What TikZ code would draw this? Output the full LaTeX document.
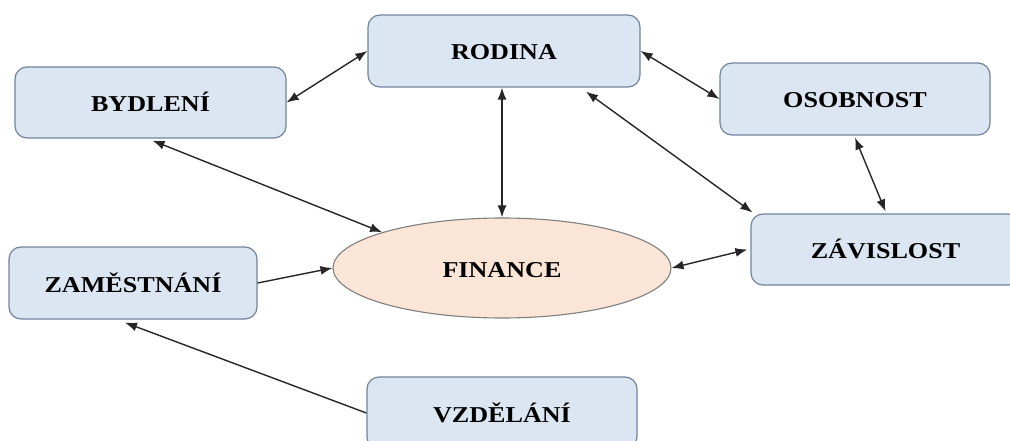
\documentclass[tikz,border=0pt]{standalone}
\usepackage{fontspec}
\setmainfont{Liberation Serif}[FakeStretch=1.15]
\usetikzlibrary{shapes.geometric,arrows.meta,calc}
\definecolor{boxfill}{HTML}{DCE6F2}
\definecolor{boxline}{HTML}{72839C}
\definecolor{elfill}{HTML}{FBE5D6}
\definecolor{elline}{HTML}{7F7F7F}
\tikzset{
  box/.style={draw=boxline, line width=1.2pt, fill=boxfill, rounded corners=12pt,
    inner sep=0pt, text height=18pt, text depth=0pt,
    font=\fontsize{22.7}{26}\selectfont\bfseries},
  fin/.style={ellipse, draw=elline, line width=1.1pt, fill=elfill, inner sep=0pt,
    text height=18pt, text depth=0pt,
    minimum width=338pt, minimum height=100pt,
    font=\fontsize{22.7}{26}\selectfont\bfseries},
  conn/.style={line width=1.4pt, draw=black!85, {Latex[length=12pt,width=9pt]}-{Latex[length=12pt,width=9pt]}},
  oneway/.style={line width=1.4pt, draw=black!85, -{Latex[length=12pt,width=9pt]}}
}
\begin{document}
\begin{tikzpicture}[x=1pt,y=-1pt]
\useasboundingbox (0,0) rectangle (1010,441);
\node[box, minimum width=271pt, minimum height=71pt] (byd) at (150.5,102.5) {BYDLENÍ};
\node[box, minimum width=272pt, minimum height=72pt] (rod) at (504,51) {RODINA};
\node[box, minimum width=270pt, minimum height=72pt] (oso) at (855,99) {OSOBNOST};
\node[box, minimum width=269pt, minimum height=71pt] (zav) at (885.5,249.5) {ZÁVISLOST};
\node[box, minimum width=248pt, minimum height=72pt] (zam) at (133,283) {ZAMĚSTNÁNÍ};
\node[box, minimum width=270pt, minimum height=72pt] (vzd) at (502,413) {VZDĚLÁNÍ};
\node[fin] (fin) at (502,268) {FINANCE};

\draw[conn] (byd.east) -- (rod.west);
\draw[conn] ($(byd.south)+(2,2)$) -- (fin.north west);
\draw[conn] ($(rod.south)+(-2,0)$) -- (fin.north);
\draw[conn] (rod.east) -- (oso.west);
\draw[conn] ($(rod.south)!0.6!(rod.south east)+(0,4)$) -- ($(zav.north west)+(2,-1)$);
\draw[conn] ($(oso.south)+(0,2)$) -- ($(zav.north)+(0,-2)$);
\draw[conn] (fin.east) -- ($(zav.west)+(-3,0)$);
\draw[oneway] (zam.east) -- (fin.west);
\draw[oneway] (vzd.west) -- ($(zam.south)+(-8,3)$);
\end{tikzpicture}
\end{document}
